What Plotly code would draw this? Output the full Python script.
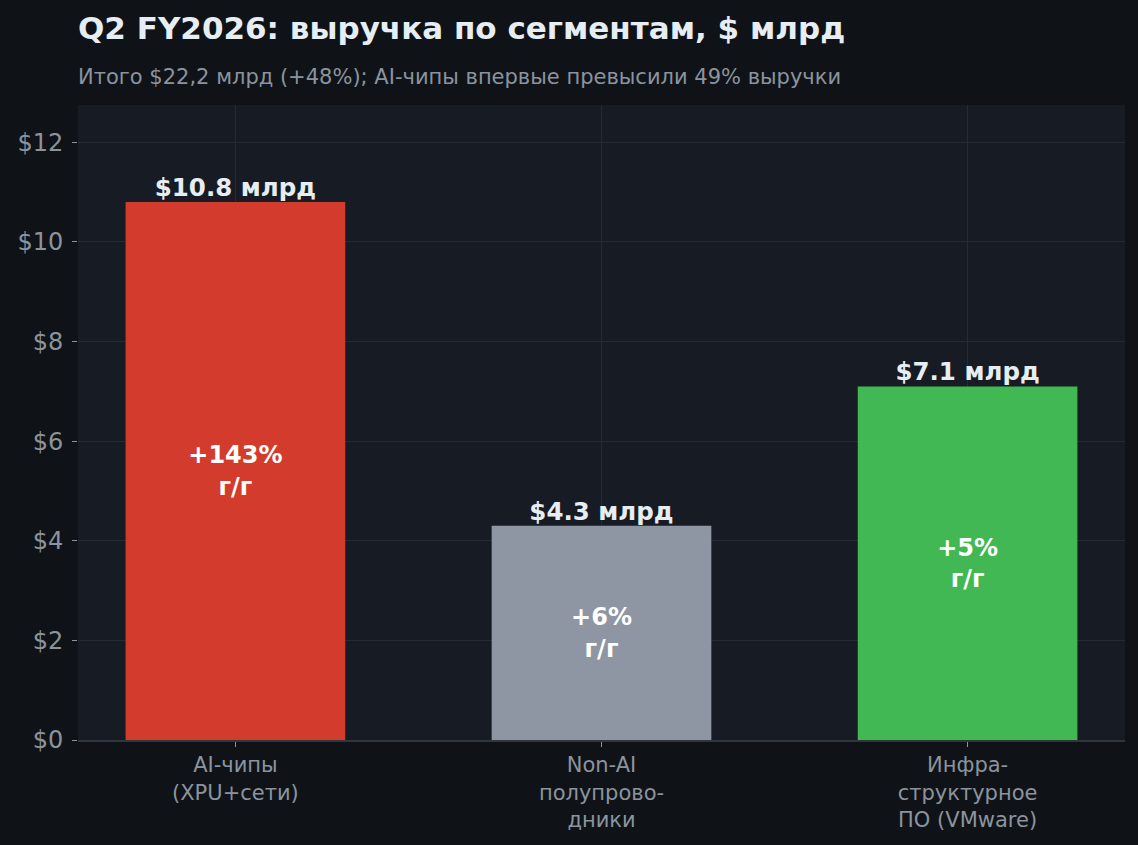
import plotly.graph_objects as go

categories = ["AI-чипы<br>(XPU+сети)", "Non-AI<br>полупрово-<br>дники", "Инфра-<br>структурное<br>ПО (VMware)"]
values = [10.8, 4.3, 7.1]
growth = ["+143%<br>г/г", "+6%<br>г/г", "+5%<br>г/г"]
value_labels = ["$10.8 млрд", "$4.3 млрд", "$7.1 млрд"]
colors = ["#d33b2c", "#8f96a3", "#41b853"]
y_ticks = [0, 2, 4, 6, 8, 10, 12]
y_tick_labels = ["$0", "$2", "$4", "$6", "$8", "$10", "$12"]

FONT = "DejaVu Sans"

fig = go.Figure()
fig.add_trace(go.Bar(
    x=categories, y=values, width=0.6,
    marker=dict(color=colors, line=dict(width=0)),
    text=growth, textposition="inside", insidetextanchor="middle",
    textfont=dict(family=FONT, size=24, color="#ffffff", weight="bold"),
    hoverinfo="skip",
))
fig.add_trace(go.Scatter(
    x=categories, y=values, mode="text", text=value_labels,
    textposition="top center",
    textfont=dict(family=FONT, size=24.5, color="#e6edf3", weight="bold"),
    hoverinfo="skip", showlegend=False,
))

fig.update_layout(
    width=1138, height=845,
    paper_bgcolor="#0f1318", plot_bgcolor="#171b23",
    margin=dict(l=78, r=13, t=105, b=105),
    showlegend=False,
    font=dict(family=FONT, color="#8b949e"),
    title=dict(text="<b>Q2 FY2026: выручка по сегментам, $ млрд</b>",
               x=78/1138, xanchor="left", xref="container",
               y=1 - 28/845, yanchor="middle", yref="container",
               font=dict(family=FONT, size=31, color="#e6edf3")),
    annotations=[dict(text="Итого $22,2 млрд (+48%); AI-чипы впервые превысили 49% выручки",
                      xref="paper", yref="paper", x=0, y=(740 - 77) / 635, xshift=-2,
                      xanchor="left", yanchor="middle", showarrow=False,
                      font=dict(family=FONT, size=21, color="#8b949e"))],
    xaxis=dict(range=[-0.43, 2.43], showgrid=True, gridcolor="#252a33",
               ticks="outside", ticklen=5, tickcolor="#8b949e",
               tickfont=dict(family=FONT, size=21, color="#8b949e"),
               showline=True, linecolor="#30363d", linewidth=2, zeroline=False),
    yaxis=dict(range=[0, 12.75], tickvals=y_ticks, ticktext=y_tick_labels,
               showgrid=True, gridcolor="#252a33",
               ticks="outside", ticklen=5, tickcolor="#8b949e",
               ticklabelstandoff=4,
               tickfont=dict(family=FONT, size=24, color="#8b949e"),
               showline=False, zeroline=False),
)

fig.write_html("out.html", config={"displayModeBar": False},
               post_script="document.body.style.margin='0';document.body.style.background='#0f1318';")
